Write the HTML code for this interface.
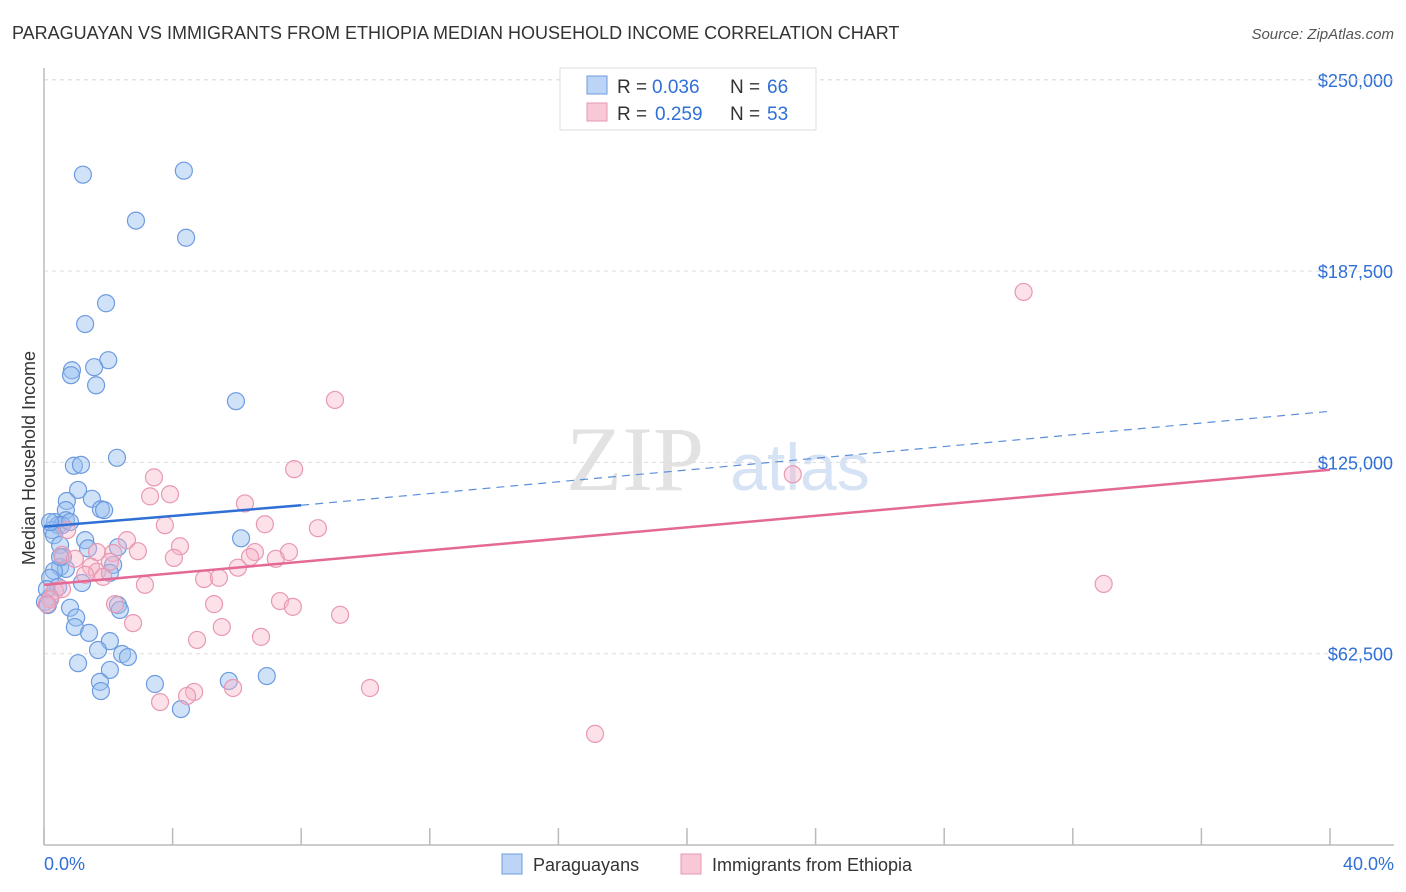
<!DOCTYPE html>
<html><head><meta charset="utf-8">
<style>
body{margin:0;background:#fff;font-family:"Liberation Sans",sans-serif;}
#wrap{position:relative;width:1406px;height:892px;overflow:hidden;}
</style></head>
<body>
<div id="wrap">
<svg id="svg" width="1406" height="892" xmlns="http://www.w3.org/2000/svg">
<text x="12" y="39" font-size="18" fill="#333">PARAGUAYAN VS IMMIGRANTS FROM ETHIOPIA MEDIAN HOUSEHOLD INCOME CORRELATION CHART</text>
<text x="1394" y="39" font-size="15" fill="#555" font-style="italic" text-anchor="end">Source: ZipAtlas.com</text>
<text x="35" y="458" font-size="18" fill="#333" text-anchor="middle" transform="rotate(-90 35 458)">Median Household Income</text>
<text x="635" y="490" font-size="92" fill="#e2e2e2" font-family="Liberation Serif" text-anchor="middle">ZIP</text>
<text x="800" y="490" font-size="66" fill="#d6e3f5" text-anchor="middle">atlas</text>
<g id="grid"></g><g id="pts"></g><g id="lines"></g>
<g>
<rect x="560" y="68" width="256" height="62" fill="#fff" stroke="#ddd"/>
<rect x="587" y="76" width="20" height="18" fill="#bcd4f5" stroke="#6d9be0"/>
<rect x="587" y="103" width="20" height="18" fill="#f9c8d7" stroke="#e898b2"/>
<text x="617" y="93" font-size="19" fill="#333">R =</text>
<text x="652" y="93" font-size="19" fill="#2f6fd6">0.036</text>
<text x="730" y="93" font-size="19" fill="#333">N =</text>
<text x="767" y="93" font-size="19" fill="#2f6fd6">66</text>
<text x="617" y="120" font-size="19" fill="#333">R =</text>
<text x="655" y="120" font-size="19" fill="#2f6fd6">0.259</text>
<text x="730" y="120" font-size="19" fill="#333">N =</text>
<text x="767" y="120" font-size="19" fill="#2f6fd6">53</text>
</g>
<g>
<rect x="502" y="854" width="20" height="20" fill="#bcd4f5" stroke="#6d9be0"/>
<text x="533" y="871" font-size="18" fill="#333">Paraguayans</text>
<rect x="681" y="854" width="20" height="20" fill="#f9c8d7" stroke="#e898b2"/>
<text x="712" y="871" font-size="18" fill="#333">Immigrants from Ethiopia</text>
</g>
</svg>
</div>
<script>
const yTicks=[62500,125000,187500,250000];
const yTickLabels=["$62,500","$125,000","$187,500","$250,000"];
const xTickLabels=["0.0%","40.0%"];
const blueX=[1.21,4.35,2.86,4.42,1.93,1.28,2.0,1.56,0.87,0.84,1.62,5.97,2.27,0.93,1.15,1.06,0.71,1.49,0.68,1.77,1.87,0.68,0.34,0.44,0.56,0.25,0.31,1.28,6.13,0.5,2.3,0.59,0.5,2.15,0.68,0.31,2.05,0.19,1.18,0.44,2.3,2.36,0.19,0.03,0.81,1.0,0.96,1.4,2.05,1.68,2.43,2.61,1.06,2.05,1.74,1.77,3.45,5.75,6.93,4.26,0.12,0.09,0.5,0.19,0.81,1.37];
const blueY=[219000,220300,204000,198400,177000,170200,158400,156100,155100,153500,150200,145000,126500,123900,124200,116000,112400,113100,109400,109700,109400,106100,105500,104500,104500,102900,101200,99600,100200,98000,97300,94100,90800,91500,90200,89500,88900,87300,85600,84300,78400,76800,81000,79400,77500,74300,71200,69300,66600,63700,62400,61400,59400,57200,53300,50300,52600,53600,55200,44400,78400,83600,94100,105500,105500,96900];
const pinkX=[30.47,9.05,7.78,23.29,3.42,3.92,3.3,6.25,6.87,8.52,3.76,0.72,2.58,4.23,1.65,2.92,2.15,0.56,6.56,6.41,7.62,0.96,4.04,2.05,7.21,6.03,1.46,1.65,1.28,1.84,4.98,5.44,3.14,32.96,0.34,0.56,2.21,5.29,7.34,7.74,9.21,2.77,5.53,6.75,4.76,5.88,10.14,4.67,3.61,4.45,17.14,0.19,0.09];
const pinkY=[180700,145400,122800,121100,120100,114600,113900,111600,104800,103500,104500,102900,99600,97600,95700,96000,95400,94800,95700,94100,95700,93500,93800,92500,93500,90600,90900,89300,88300,87600,86900,87300,85000,85300,83000,83600,78700,78700,79700,77800,75200,72500,71200,68000,67000,51300,51300,50000,46700,48700,36300,80300,78700];
const X0=44,X1=1330,Y0=845,PPY=191.3/62500;
const sx=v=>X0+(v/40)*(X1-X0), sy=v=>Y0-v*PPY;
const NS="http://www.w3.org/2000/svg";
function mk(tag,attrs,parent){const e=document.createElementNS(NS,tag);for(const k in attrs)e.setAttribute(k,attrs[k]);parent.appendChild(e);return e;}
const grid=document.getElementById('grid'),pts=document.getElementById('pts'),lines=document.getElementById('lines');
yTicks.forEach((t,i)=>{
 const l=mk('line',{x1:X0,x2:1394,y1:sy(t),y2:sy(t),stroke:'#ddd','stroke-dasharray':'4,4'},grid);
 
 
 const tx=mk('text',{x:1393,y:sy(t)+7,'font-size':18,fill:'#2f6fd6','text-anchor':'end'},grid);
 tx.textContent=yTickLabels[i];
 
 
});
const topLine=mk('line',{x1:X0,x2:1394,y1:sy(250000),y2:sy(250000),stroke:'#ddd','stroke-dasharray':'4,4'},grid);


const ya=mk('line',{x1:X0,x2:X0,y1:68,y2:Y0,stroke:'#bbb','stroke-width':1.5},grid);


const xa=mk('line',{x1:X0,x2:1394,y1:Y0,y2:Y0,stroke:'#bbb','stroke-width':1.5},grid);


for(let i=0;i<=10;i++){const t=mk('line',{x1:sx(i*4),x2:sx(i*4),y1:828,y2:Y0,stroke:'#bbb','stroke-width':1.5},grid);
 
 }
[[0,'start',44],[40,'end',1394]].forEach((a,i)=>{const t=mk('text',{x:a[2],y:870,'font-size':18,fill:'#2f6fd6','text-anchor':a[1]},grid);t.textContent=xTickLabels[i];
 
 });
blueX.forEach((v,i)=>{const c=mk('circle',{cx:sx(v),cy:sy(blueY[i]),r:8.5,fill:'rgba(150,190,240,0.45)',stroke:'#6d9be0','stroke-width':1.2},pts);
 
 });
pinkX.forEach((v,i)=>{const c=mk('circle',{cx:sx(v),cy:sy(pinkY[i]),r:8.5,fill:'rgba(248,180,200,0.4)',stroke:'#e898b2','stroke-width':1.2},pts);
 
 });
const b1=mk('line',{x1:sx(0),y1:sy(104000),x2:sx(8),y2:sy(111000),stroke:'#2f6fd6','stroke-width':2.5},lines);


const b2=mk('line',{x1:sx(8),y1:sy(111000),x2:sx(40),y2:sy(141700),stroke:'#5b8fd8','stroke-width':1.2,'stroke-dasharray':'8,6'},lines);


const p1=mk('line',{x1:sx(0),y1:sy(85000),x2:sx(40),y2:sy(122600),stroke:'#e46a95','stroke-width':2.5},lines);


</script>
</body></html>
